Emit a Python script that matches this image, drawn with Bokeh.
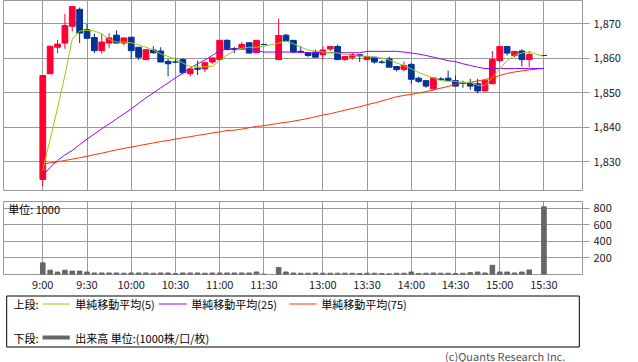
from bokeh.plotting import figure
from bokeh.models import Range1d, FixedTicker, NumeralTickFormatter, ColumnDataSource, Label
from bokeh.layouts import column
from bokeh.embed import file_html
from bokeh.resources import INLINE
from bokeh.core.properties import value

# ---------------- data ----------------
times = ["9:00","9:05","9:10","9:15","9:20","9:25","9:30","9:35","9:40","9:45","9:50","9:55",
         "10:00","10:05","10:10","10:15","10:20","10:25","10:30","10:35","10:40","10:45","10:50","10:55",
         "11:00","11:05","11:10","11:15","11:20","11:25","11:30",
         "12:30","12:35","12:40","12:45","12:50","12:55","13:00","13:05","13:10","13:15","13:20","13:25",
         "13:30","13:35","13:40","13:45","13:50","13:55","14:00","14:05","14:10","14:15","14:20","14:25",
         "14:30","14:35","14:40","14:45","14:50","14:55","15:00","15:05","15:10","15:15","15:20","15:30"]

open_ = [1824.8,1855.5,1863.2,1864.4,1869.3,1874.2,1868.3,1866.0,1862.2,1864.4,
         1866.7,1864.4,1866.1,1863.2,1859.6,1862.4,1862.1,1859.1,1858.9,1859.6,
         1855.5,1857.1,1856.9,1858.9,1859.6,1865.2,1862.8,1862.7,1864.5,1861.6,
         1864.0,
         1859.6,1866.7,1865.2,1862.0,1861.6,1861.8,1861.0,1862.7,1863.4,1859.6,
         1860.3,1861.0,1859.6,1860.3,1858.9,1859.8,1857.6,1856.7,1858.2,1854.2,
         1853.5,1851.1,1854.0,1854.2,1853.5,1852.8,1852.8,1852.6,1850.5,1852.6,
         1859.3,1863.4,1860.8,1862.1,1859.6,1860.8]
high = [1855.0,1863.5,1865.3,1872.9,1875.0,1874.7,1870.0,1867.1,1867.1,1867.3,
        1868.1,1865.9,1866.1,1863.2,1862.5,1863.5,1863.2,1859.8,1860.1,1860.1,
        1856.9,1859.3,1859.1,1860.1,1865.2,1865.5,1863.3,1864.7,1864.5,1865.2,
        1864.0,
        1871.5,1867.1,1865.2,1863.5,1861.6,1862.5,1863.4,1863.4,1864.0,1860.5,
        1861.6,1861.0,1860.5,1860.3,1859.5,1860.5,1857.6,1859.1,1858.7,1854.7,
        1853.5,1854.3,1854.5,1856.4,1855.0,1853.5,1854.0,1854.0,1853.5,1862.1,
        1863.4,1863.4,1862.0,1862.7,1862.1,1860.8]
low = [1822.8,1855.5,1861.5,1862.7,1867.8,1864.4,1865.8,1861.5,1861.3,1862.9,
       1864.4,1863.7,1859.8,1859.5,1859.6,1861.3,1858.9,1854.7,1858.6,1855.3,
       1854.7,1855.1,1856.0,1858.4,1859.6,1862.5,1861.5,1862.7,1861.5,1861.6,
       1864.0,
       1859.6,1865.0,1861.5,1861.5,1860.3,1860.3,1859.6,1862.1,1859.6,1859.3,
       1859.6,1858.9,1859.6,1858.4,1858.4,1857.4,1856.2,1856.2,1852.6,1852.8,
       1851.4,1850.6,1853.8,1853.5,1851.9,1851.4,1850.8,1849.8,1850.5,1852.6,
       1858.9,1860.8,1860.3,1857.6,1857.4,1860.8]
close = [1855.0,1863.5,1864.1,1869.5,1875.0,1867.3,1865.8,1862.2,1864.7,1865.9,
         1864.4,1865.9,1862.2,1860.3,1862.5,1861.6,1858.9,1858.4,1858.9,1855.8,
         1856.9,1856.8,1858.7,1860.1,1865.2,1862.5,1862.5,1864.0,1861.5,1865.2,
         1864.0,
         1866.6,1865.0,1861.8,1861.8,1860.8,1860.3,1862.4,1863.4,1859.6,1860.5,
         1861.0,1860.7,1860.5,1858.9,1858.8,1857.4,1856.7,1857.9,1853.9,1853.3,
         1851.9,1854.3,1853.8,1853.5,1851.9,1852.7,1851.9,1850.5,1853.5,1859.6,
         1863.4,1861.5,1862.0,1859.6,1861.1,1860.8]

volume = [141,52,30,52,41,41,30,
          18,18,18,18,15,18,18,18,15,18,18,11,18,18,18,15,18,18,18,18,18,18,
          30,4,
          85,30,18,
          15,15,18,15,15,15,15,15,11,15,15,11,8,15,15,
          30,
          11,15,18,15,15,11,15,22,
          30,18,111,30,30,18,30,55,820]

ma5 = [1827.4,1836.5,1845.5,1855.0,1865.5,1867.9,1868.1,1867.9,1867.1,1865.5,
       1864.7,1864.7,1864.5,1863.9,1863.2,1862.4,1861.3,1860.5,1859.8,1858.6,
       1857.6,1857.5,1857.5,1857.6,1859.3,1860.9,1862.2,1862.9,1863.2,1863.2,
       1863.5,
       1864.4,1865.0,1864.2,1863.2,1862.4,1862.1,1861.8,1861.6,1861.5,1861.1,
       1860.8,1860.6,1860.6,1860.3,1860.1,1859.5,1858.6,1857.9,1856.9,1855.9,
       1855.0,1854.3,1853.5,1853.3,1853.3,1853.0,1853.0,1852.1,1852.1,1854.3,
       1856.9,1859.3,1860.8,1861.5,1861.8,1860.5]
ma25 = [1825.9,1828.3,1830.3,1831.9,1833.2,1834.9,1836.5,1838.0,1839.5,1840.9,
        1842.4,1843.8,1845.3,1846.9,1848.5,1849.9,1851.4,1852.8,1854.3,1855.7,
        1857.1,1858.4,1859.5,1860.8,1862.2,1862.7,1862.7,1862.7,1862.6,1862.2,
        1861.8,
        1861.8,1861.8,1861.8,1861.7,1861.6,1861.6,1861.6,1861.6,1861.6,1861.6,
        1861.6,1861.6,1862.0,1862.0,1862.0,1862.0,1862.0,1861.8,1861.5,1861.2,
        1860.8,1860.3,1859.8,1859.3,1859.0,1858.4,1857.9,1857.4,1857.0,1857.0,
        1857.0,1857.0,1857.0,1857.0,1857.0,1857.0]
ma75 = [1829.3,1829.6,1829.9,1830.3,1830.7,1831.1,1831.5,1832.0,1832.4,1832.9,
        1833.4,1833.8,1834.2,1834.6,1835.0,1835.4,1835.8,1836.1,1836.5,1836.9,
        1837.2,1837.6,1837.9,1838.3,1838.6,1839.0,1839.1,1839.4,1839.8,1840.2,
        1840.4,
        1841.1,1841.4,1841.7,1842.1,1842.5,1843.0,1843.5,1843.9,1844.4,1844.9,
        1845.4,1845.9,1846.5,1847.0,1847.6,1848.2,1848.8,1849.2,1849.5,1849.9,
        1850.3,1850.8,1851.3,1851.8,1852.5,1852.8,1853.0,1853.4,1853.8,1854.3,
        1855.0,1855.6,1856.0,1856.3,1856.6,1857.1]

tick_times = ["9:00","9:30","10:00","10:30","11:00","11:30","13:00","13:30","14:00","14:30","15:00","15:30"]
price_ticks = [1830, 1840, 1850, 1860, 1870]
volume_ticks = [200, 400, 600, 800]

legend_upper = ["単純移動平均(5)", "単純移動平均(25)", "単純移動平均(75)"]
legend_lower = "出来高 単位:(1000株/口/枚)"
unit_text = "単位: 1000"

# ---------------- helpers ----------------
MORNING_START = 9 * 60
AFTERNOON_START = 12 * 60 + 30
AFTERNOON_SLOT = 32  # one empty slot for the lunch break


def slot(t):
    h, m = map(int, t.split(":"))
    mins = h * 60 + m
    if mins < AFTERNOON_START:
        return (mins - MORNING_START) // 5
    return (mins - AFTERNOON_START) // 5 + AFTERNOON_SLOT


xs = [slot(t) for t in times]
RED = "#ff0033"
BLUE = "#003399"
colors = [RED if c > o else BLUE for o, c in zip(open_, close)]
src = ColumnDataSource(dict(
    x=xs, open=open_, high=high, low=low, close=close,
    top=[max(o, c) for o, c in zip(open_, close)],
    bottom=[min(o, c) for o, c in zip(open_, close)],
    color=colors, vol=volume, ma5=ma5, ma25=ma25, ma75=ma75,
))

FONT = "Noto Sans CJK JP"
GRID = "#999999"
ticks_x = [slot(t) for t in tick_times]

x_range = Range1d(-5.33, 73.23)

# ---------------- price panel ----------------
p1 = figure(width=638, height=195, x_range=x_range, y_range=Range1d(1821.58, 1876.77),
            output_backend="svg", toolbar_location=None, x_axis_location=None,
            y_axis_location="right", min_border_left=3, min_border_right=56,
            min_border_top=0, min_border_bottom=5)
p1.outline_line_color = GRID
p1.xgrid.ticker = FixedTicker(ticks=ticks_x)
p1.ygrid.ticker = FixedTicker(ticks=price_ticks)
for g in (p1.xgrid, p1.ygrid):
    g.grid_line_color = GRID
    g.grid_line_alpha = 1.0
ya = p1.yaxis[0]
ya.ticker = FixedTicker(ticks=price_ticks)
ya.formatter = NumeralTickFormatter(format="0,0")
ya.axis_line_color = None
ya.major_tick_out = 7
ya.major_tick_in = 0
ya.major_tick_line_color = GRID
ya.minor_tick_line_color = None
ya.major_label_standoff = 4
ya.major_label_text_font = FONT
ya.major_label_text_font_size = "11px"
ya.major_label_text_color = "#222222"

p1.segment(x0="x", y0="high", x1="x", y1="low", color="color", line_width=1, source=src)
p1.vbar(x="x", width=0.78, top="top", bottom="bottom", fill_color="color",
        line_color="color", line_width=1, source=src)
p1.line(x="x", y="ma75", color="#ff3300", line_width=1, source=src)
p1.line(x="x", y="ma25", color="#9900ff", line_width=1, source=src)
p1.line(x="x", y="ma5", color="#99cc00", line_width=1, source=src)

# ---------------- volume panel ----------------
p2 = figure(width=638, height=99, x_range=x_range, y_range=Range1d(0, 884),
            output_backend="svg", toolbar_location=None,
            y_axis_location="right", min_border_left=3, min_border_right=56,
            min_border_top=6, min_border_bottom=13)
p2.outline_line_color = GRID
p2.xgrid.ticker = FixedTicker(ticks=ticks_x)
p2.ygrid.ticker = FixedTicker(ticks=volume_ticks)
for g in (p2.xgrid, p2.ygrid):
    g.grid_line_color = GRID
    g.grid_line_alpha = 1.0
ya2 = p2.yaxis[0]
ya2.ticker = FixedTicker(ticks=volume_ticks)
ya2.axis_line_color = None
ya2.major_tick_out = 7
ya2.major_tick_in = 0
ya2.major_tick_line_color = GRID
ya2.minor_tick_line_color = None
ya2.major_label_standoff = 4
ya2.major_label_text_font = FONT
ya2.major_label_text_font_size = "11px"
ya2.major_label_text_color = "#222222"
xa2 = p2.xaxis[0]
xa2.ticker = FixedTicker(ticks=ticks_x)
xa2.major_label_overrides = {tk: lab for tk, lab in zip(ticks_x, tick_times)}
xa2.axis_line_color = None
xa2.major_tick_line_color = None
xa2.minor_tick_line_color = None
xa2.major_tick_out = 0
xa2.major_tick_in = 0
xa2.major_label_standoff = 1
xa2.major_label_text_font = FONT
xa2.major_label_text_font_size = "11px"
xa2.major_label_text_color = "#222222"

p2.vbar(x="x", width=0.62, top="vol", bottom=0, color="#666666", source=src)
p2.add_layout(Label(x=-4.7, y=790, x_units="data", y_units="data", text=unit_text,
                    text_font=FONT, text_font_size="11px", text_baseline="middle",
                    text_color="#000000"))

# ---------------- legend panel ----------------
p3 = figure(width=638, height=68, x_range=Range1d(0, 638), y_range=Range1d(362, 294),
            output_backend="svg", toolbar_location=None, x_axis_location=None,
            y_axis_location=None, min_border=0)
p3.outline_line_color = None
p3.xgrid.visible = False
p3.ygrid.visible = False
p3.quad(left=[3.5], right=[634.5], top=[295.5], bottom=[346.5], fill_color=None,
        line_color="#000000", line_width=1)
for x0, x1, col in [(43, 73, "#99cc00"), (171, 202, "#9900ff"), (315, 345, "#ff3300")]:
    p3.segment(x0=[x0], y0=[303.5], x1=[x1], y1=[303.5], line_color=col, line_width=1)
p3.segment(x0=[43], y0=[337], x1=[73], y1=[337], line_color="#666666", line_width=4)
p3.text(x=[11, 79, 207, 350, 11, 79], y=[303, 303, 303, 303, 337, 337],
        text=["上段:"] + legend_upper + ["下段:", legend_lower],
        text_font=value(FONT), text_font_size=value("11px"), text_baseline="middle",
        text_color="#000000")
p3.text(x=[619], y=[355], text=["(c)Quants Research Inc."], text_font=value(FONT),
        text_font_size=value("11px"), text_baseline="middle", text_align="right",
        text_color="#555555")

layout = column(p1, p2, p3, spacing=0)

open("out.html", "w").write(file_html(layout, INLINE))
